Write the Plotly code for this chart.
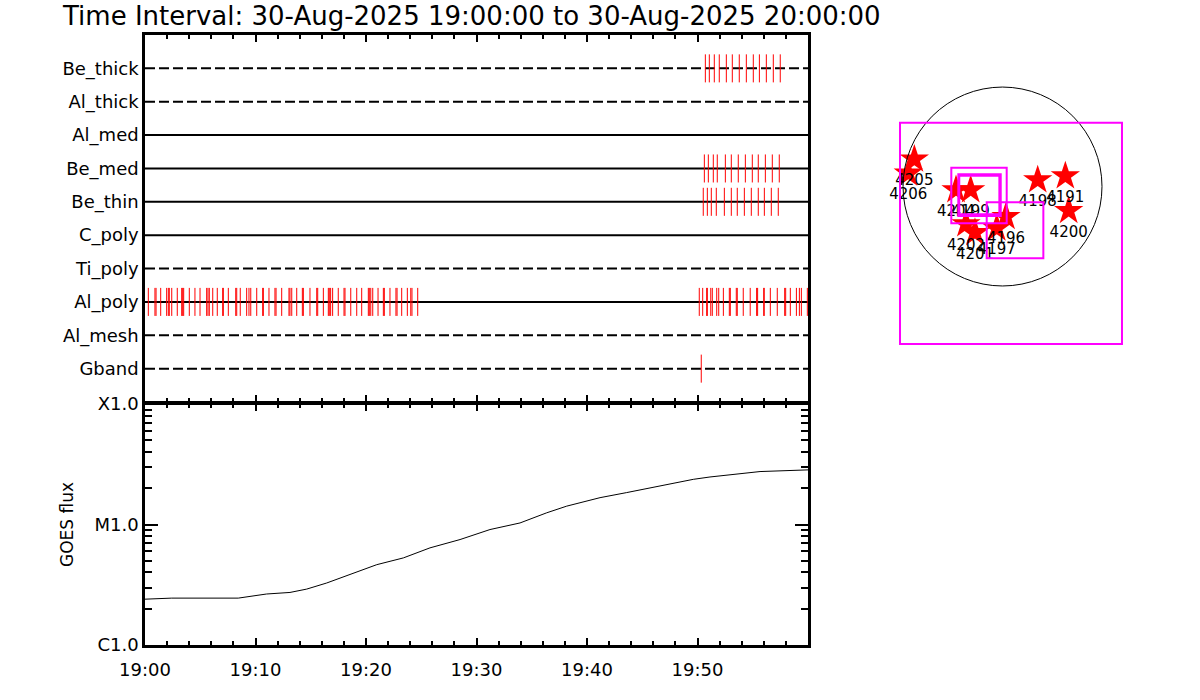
import plotly.graph_objects as go

# ---------------- data ----------------
detectors = ["Be_thick", "Al_thick", "Al_med", "Be_med", "Be_thin",
             "C_poly", "Ti_poly", "Al_poly", "Al_mesh", "Gband"]
row_dashed = [True, True, False, False, False, False, True, False, True, True]

# event times, minutes after 19:00
be_thick_t = [50.71, 51.07, 51.52, 51.97, 52.61, 53.15, 53.78, 54.42, 55.05,
              55.60, 56.23, 56.86, 57.49]
be_med_t = [50.62, 50.98, 51.43, 51.79, 52.52, 53.06, 53.69, 54.33, 54.96,
            55.50, 56.14, 56.77, 57.40]
be_thin_t = [50.52, 50.89, 51.25, 51.70, 52.43, 53.06, 53.60, 54.24, 54.87,
             55.50, 56.05, 56.68, 57.31]
al_poly_t = [0.30, 0.90, 1.00, 1.42, 1.96, 2.11, 2.20, 2.42, 2.92, 3.32, 3.41,
             3.50, 4.01, 4.52, 4.98, 5.58, 5.70, 5.82, 6.13, 6.54, 7.03, 7.09,
             7.54, 8.21, 8.30, 8.62, 9.20, 9.41, 9.57, 10.11, 10.65, 10.71,
             11.22, 11.76, 11.86, 12.37, 13.03, 13.12, 13.28, 13.73, 14.24,
             14.33, 14.93, 15.54, 15.63, 16.14, 16.59, 16.68, 16.80, 16.98,
             17.49, 18.01, 18.10, 18.62, 19.16, 19.61, 20.21, 20.30, 20.43,
             20.61, 21.09, 21.57, 21.66, 22.17, 22.71, 22.81, 23.23, 23.74,
             24.05, 24.16, 24.68,
             50.16, 50.47, 50.83, 50.89, 51.20, 51.34, 51.74, 51.92, 52.34,
             52.88, 52.97, 53.51, 53.60, 54.14, 54.77, 55.35, 55.44, 55.99,
             56.04, 56.59, 57.22, 57.89, 57.98, 58.40, 58.95, 59.22, 59.40,
             59.94]
gband_t = [50.34]

# GOES flux (W/m^2)
goes_t = [0, 2.42, 8.44, 9.50, 11.0, 13.12, 14.63, 16.44, 18.55, 20.97, 23.38,
          25.79, 28.51, 31.22, 33.94, 36.35, 38.16, 41.18, 43.59, 46.61, 49.62,
          51.13, 54.14, 55.66, 60]
goes_flux = [2.40e-6, 2.45e-6, 2.45e-6, 2.53e-6, 2.65e-6, 2.73e-6, 2.91e-6,
             3.27e-6, 3.83e-6, 4.64e-6, 5.28e-6, 6.40e-6, 7.50e-6, 9.08e-6,
             1.03e-5, 1.25e-5, 1.42e-5, 1.67e-5, 1.84e-5, 2.08e-5, 2.37e-5,
             2.48e-5, 2.65e-5, 2.75e-5, 2.84e-5]

time_tickvals = [0, 10, 20, 30, 40, 50]
time_ticktext = ["19:00", "19:10", "19:20", "19:30", "19:40", "19:50"]
goes_levels = [1e-6, 1e-5, 1e-4]
goes_labels = ["C1.0", "M1.0", "X1.0"]

# active regions (arcsec)
ar_ids = ["4205", "4206", "4198", "4191", "4200", "4204", "4199", "4202",
          "4201", "4196", "4197"]
ar_x = [-842, -900, 336, 600, 632, -444, -304, -349, -263, 33, -55]
ar_y = [260, 126, 62, 100, -231, -33, -33, -358, -441, -288, -399]

# field-of-view boxes (arcsec)
box_x0 = [-979, -489, -422, -413, -151]
box_x1 = [1141, 40, -17, -30, 390]
box_y0 = [-1504, -351, -282, -265, -686]
box_y1 = [609, 180, 117, 103, -151]
sun_radius = 950

title_text = "Time Interval: 30-Aug-2025 19:00:00 to 30-Aug-2025 20:00:00"

# ---------------- figure ----------------
FONT = "DejaVu Sans"
fig = go.Figure()

n = len(detectors)
row_y = [n - i for i in range(n)]
events = {"Be_thick": be_thick_t, "Be_med": be_med_t, "Be_thin": be_thin_t,
          "Al_poly": al_poly_t, "Gband": gband_t}

# detector baseline rows
for name, y, dashed in zip(detectors, row_y, row_dashed):
    fig.add_trace(go.Scatter(
        x=[0, 60], y=[y, y], mode="lines", xaxis="x", yaxis="y",
        line=dict(color="black", width=2, dash="10px,4px" if dashed else "solid"),
        showlegend=False, hoverinfo="skip"))

# event ticks
half = 0.42
for name, y in zip(detectors, row_y):
    ts = events.get(name)
    if not ts:
        continue
    xs, ys = [], []
    for t in ts:
        xs += [t, t, None]
        ys += [y - half, y + half, None]
    fig.add_trace(go.Scatter(
        x=xs, y=ys, mode="lines", xaxis="x", yaxis="y",
        line=dict(color="#ff0000", width=1),
        showlegend=False, hoverinfo="skip"))

# GOES curve
fig.add_trace(go.Scatter(
    x=goes_t, y=goes_flux, mode="lines", xaxis="x2", yaxis="y2",
    line=dict(color="black", width=1), showlegend=False))

# active regions
fig.add_trace(go.Scatter(
    x=ar_x, y=ar_y, mode="markers+text", xaxis="x3", yaxis="y3",
    text=ar_ids, textposition="bottom center",
    textfont=dict(family=FONT, size=15, color="black"),
    marker=dict(symbol="star", size=22, color="#ff0000", line=dict(width=0)),
    showlegend=False))

shapes = [dict(type="circle", xref="x3", yref="y3",
               x0=-sun_radius, x1=sun_radius, y0=-sun_radius, y1=sun_radius,
               line=dict(color="black", width=1))]
for x0, x1, y0, y1 in zip(box_x0, box_x1, box_y0, box_y1):
    shapes.append(dict(type="rect", xref="x3", yref="y3",
                       x0=x0, x1=x1, y0=y0, y1=y1,
                       line=dict(color="#ff00ff", width=2)))

minor_log = [m * d for d in (1e-6, 1e-5) for m in range(2, 10)]

axis_common = dict(showline=True, linecolor="black", linewidth=2.5,
                   showgrid=False, zeroline=False, automargin=False)
tick_font = dict(family=FONT, size=18, color="black")

fig.update_layout(
    width=1200, height=700, autosize=False,
    margin=dict(l=0, r=0, t=0, b=0, pad=0),
    paper_bgcolor="white", plot_bgcolor="white",
    font=dict(family=FONT, color="black"),
    shapes=shapes,
    xaxis=dict(domain=[145 / 1200, 808 / 1200], anchor="y", range=[0, 60],
               tickmode="linear", tick0=0, dtick=10, showticklabels=False,
               ticks="inside", ticklen=7, tickwidth=2, tickcolor="black",
               minor=dict(tickmode="linear", tick0=0, dtick=2, ticks="inside",
                          ticklen=4, tickwidth=2, tickcolor="black"),
               mirror="ticks", **axis_common),
    yaxis=dict(domain=[1 - 402 / 700, 1 - 35 / 700], anchor="x", range=[0, 11],
               tickmode="array", tickvals=row_y, ticktext=detectors,
               ticks="", tickfont=tick_font, mirror=True, **axis_common),
    xaxis2=dict(domain=[145 / 1200, 808 / 1200], anchor="y2", range=[0, 60],
                tickmode="array", tickvals=time_tickvals, ticktext=time_ticktext,
                tickfont=tick_font, ticklabelstandoff=7,
                ticks="inside", ticklen=7, tickwidth=2, tickcolor="black",
                minor=dict(tickmode="linear", tick0=0, dtick=2, ticks="inside",
                           ticklen=4, tickwidth=2, tickcolor="black"),
                mirror="ticks", **axis_common),
    yaxis2=dict(domain=[1 - 645 / 700, 1 - 404 / 700], anchor="x2",
                type="log", range=[-6, -4],
                tickmode="array", tickvals=goes_levels, ticktext=goes_labels,
                tickfont=tick_font,
                ticks="inside", ticklen=13, tickwidth=2, tickcolor="black",
                minor=dict(tickmode="array", tickvals=minor_log, ticks="inside",
                           ticklen=7, tickwidth=2, tickcolor="black"),
                title=dict(text="GOES flux", font=dict(family=FONT, size=17),
                           standoff=17),
                mirror="ticks", **axis_common),
    xaxis3=dict(domain=[880 / 1200, 1140 / 1200], anchor="y3",
                range=[-1170, 1313], visible=False),
    yaxis3=dict(domain=[1 - 360 / 700, 1 - 70 / 700], anchor="x3",
                range=[-1657, 1113], visible=False),
    annotations=[dict(text=title_text, xref="paper", yref="paper",
                      x=60 / 1200, y=1 - 16 / 700, xanchor="left",
                      yanchor="middle", showarrow=False,
                      font=dict(family=FONT, size=26, color="black"))],
)

fig.write_html("out.html", config={"displayModeBar": False},
               post_script="document.body.style.margin='0';document.body.style.padding='0';")
